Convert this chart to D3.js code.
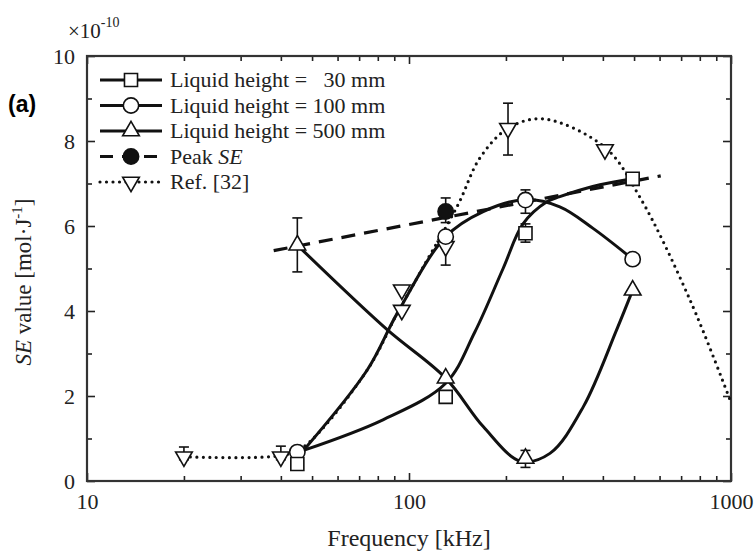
<!DOCTYPE html>
<html>
<head>
<meta charset="utf-8">
<script src="https://cdn.jsdelivr.net/npm/d3@7"></script>
<style>
  html, body { margin: 0; padding: 0; background: #fff; }
  svg { display: block; }
  text { font-family: 'Liberation Serif', 'Times New Roman', serif; fill: #222; }
</style>
</head>
<body>
<svg id="chart" width="756" height="554"></svg>
<script>
// Transducer frequencies (kHz) shared by the three liquid heights
const freqs = [45, 130, 230, 495];
// SE values (x1e-10 mol/J)
const se30  = [0.40, 1.98, 5.83, 7.11];
const se100 = [0.68, 5.75, 6.61, 5.22];
const se500 = [5.55, 2.42, 0.53, 4.49];

// Peak SE marker and its trend line
const peakFreq = [130];
const peakSE   = [6.34];
const peakLine = [[38, 5.42], [605, 7.18]];

// Ref. [32]
const refFreq = [20, 40, 95, 95, 130, 203, 406];
const refSE   = [0.57, 0.57, 4.50, 4.02, 5.52, 8.30, 7.80];

// Smooth trend curves through each data set [freq, SE]
const fit30  = [[47,0.72],[83,1.44],[130,2.30],[160,3.50],[196,5.00],[226,6.05],[268,6.57],[294,6.69],[372,6.93],[495,7.11]];
const fit100 = [[47,0.72],[74,2.60],[92,3.95],[130,5.75],[170,6.34],[230,6.62],[294,6.45],[372,5.95],[495,5.22]];
const fit500 = [[45,5.55],[85,3.58],[130,2.42],[170,1.28],[222,0.47],[274,0.65],[348,1.75],[441,3.55],[495,4.49]];
const fitRef = [[20,0.57],[40,0.60],[47,0.80],[74,2.60],[92,3.95],[110,5.00],[142,6.50],[166,7.60],[203,8.30],[261,8.52],[406,7.85],[521,6.68],[746,4.26],[1000,1.85]];

// Error bars [freq, low, high]
const err30   = [[45,0.28,0.80],[130,1.86,2.12],[230,5.62,6.05]];
const err100  = [[230,6.30,6.85]];
const err500  = [[45,4.92,6.19],[230,0.32,0.72]];
const errPeak = [[130,6.08,6.66]];
const errRef  = [[20,0.50,0.80],[40,0.50,0.82],[130,5.08,5.70],[203,7.67,8.89]];

// Axis ticks
const xTicks = [10, 100, 1000];
const xMinor = [20,30,40,50,60,70,80,90,200,300,400,500,600,700,800,900];
const yTicks = [0, 2, 4, 6, 8, 10];
const yMinor = [1, 3, 5, 7, 9];

const legendLabels = ["Liquid height = \u200730 mm", "Liquid height = 100 mm", "Liquid height = 500 mm", "Peak ", "Ref. [32]"];

const svg = d3.select("#chart");
const L = 87, R = 731, T = 56, B = 481;
const x = d3.scaleLog().domain([10, 1000]).range([L, R]);
const y = d3.scaleLinear().domain([0, 10]).range([B, T]);

// ---- axes (inward ticks on all four sides) ----
function styleAxis(g) {
  g.select(".domain").remove();
  g.selectAll(".tick line").attr("stroke", "#222").attr("stroke-width", 1.6);
  g.selectAll(".tick text").attr("font-family", "'Liberation Serif', 'Times New Roman', serif")
    .attr("font-size", 22).attr("fill", "#222");
}
const fmtInt = d3.format("d");
svg.append("g").attr("transform", `translate(0,${B})`)
  .call(d3.axisBottom(x).tickValues(xTicks).tickFormat(fmtInt).tickSizeInner(-8).tickSizeOuter(0).tickPadding(12))
  .call(styleAxis);
svg.append("g").attr("transform", `translate(0,${B})`)
  .call(d3.axisBottom(x).tickValues(xMinor).tickFormat("").tickSizeInner(-5).tickSizeOuter(0))
  .call(styleAxis);
svg.append("g").attr("transform", `translate(0,${T})`)
  .call(d3.axisTop(x).tickValues(xTicks).tickFormat("").tickSizeInner(-8).tickSizeOuter(0))
  .call(styleAxis);
svg.append("g").attr("transform", `translate(0,${T})`)
  .call(d3.axisTop(x).tickValues(xMinor).tickFormat("").tickSizeInner(-5).tickSizeOuter(0))
  .call(styleAxis);
svg.append("g").attr("transform", `translate(${L},0)`)
  .call(d3.axisLeft(y).tickValues(yTicks).tickFormat(fmtInt).tickSizeInner(-8).tickSizeOuter(0).tickPadding(12))
  .call(styleAxis);
svg.append("g").attr("transform", `translate(${L},0)`)
  .call(d3.axisLeft(y).tickValues(yMinor).tickFormat("").tickSizeInner(-5).tickSizeOuter(0))
  .call(styleAxis);
svg.append("g").attr("transform", `translate(${R},0)`)
  .call(d3.axisRight(y).tickValues(yTicks).tickFormat("").tickSizeInner(-8).tickSizeOuter(0))
  .call(styleAxis);
svg.append("g").attr("transform", `translate(${R},0)`)
  .call(d3.axisRight(y).tickValues(yMinor).tickFormat("").tickSizeInner(-5).tickSizeOuter(0))
  .call(styleAxis);

svg.append("rect").attr("x", L).attr("y", T).attr("width", R - L).attr("height", B - T)
  .attr("fill", "none").attr("stroke", "#333").attr("stroke-width", 2.2);

// axis titles
svg.append("text").attr("x", (L + R) / 2).attr("y", 546).attr("text-anchor", "middle")
  .attr("font-size", 24).text("Frequency [kHz]");

const yt = svg.append("text").attr("transform", "translate(31,282) rotate(-90)")
  .attr("text-anchor", "middle").attr("font-size", 23);
yt.append("tspan").attr("font-style", "italic").text("SE");
yt.append("tspan").text(" value [mol\u00B7J");
yt.append("tspan").attr("font-size", 15).attr("dy", -9).text("-1");
yt.append("tspan").attr("dy", 9).text("]");

// exponent label
const ex = svg.append("text").attr("x", 68).attr("y", 38).attr("font-size", 21);
ex.append("tspan").text("\u00D710");
ex.append("tspan").attr("font-size", 14).attr("dy", -11).text("-10");

// panel tag
svg.append("text").attr("x", 8).attr("y", 112).attr("font-size", 23)
  .attr("font-weight", "bold").style("font-family", "'Liberation Sans', Arial, sans-serif")
  .style("fill", "#000").text("(a)");

// ---- curves ----
const line = d3.line().x(d => x(d[0])).y(d => y(d[1])).curve(d3.curveCatmullRom.alpha(0.5));
const plot = svg.append("g");

plot.append("path").datum(fitRef).attr("d", line).attr("fill", "none")
  .attr("stroke", "#111").attr("stroke-width", 3.2).attr("stroke-linecap", "round")
  .attr("stroke-dasharray", "0 6.5");
plot.append("path").datum(peakLine).attr("d", d3.line().x(d => x(d[0])).y(d => y(d[1])))
  .attr("fill", "none").attr("stroke", "#111").attr("stroke-width", 3.2).attr("stroke-dasharray", "14 9");
[fit30, fit100, fit500].forEach(f => {
  plot.append("path").datum(f).attr("d", line).attr("fill", "none")
    .attr("stroke", "#111").attr("stroke-width", 3);
});

// ---- error bars ----
function errorBars(list) {
  const g = plot.append("g").attr("stroke", "#111").attr("stroke-width", 1.6);
  list.forEach(([f, lo, hi]) => {
    g.append("line").attr("x1", x(f)).attr("x2", x(f)).attr("y1", y(lo)).attr("y2", y(hi));
    g.append("line").attr("x1", x(f) - 5).attr("x2", x(f) + 5).attr("y1", y(lo)).attr("y2", y(lo));
    g.append("line").attr("x1", x(f) - 5).attr("x2", x(f) + 5).attr("y1", y(hi)).attr("y2", y(hi));
  });
}
[errRef, err30, err100, err500, errPeak].forEach(errorBars);

// ---- markers ----
const sq = d3.symbol().type(d3.symbolSquare).size(170);
const ci = d3.symbol().type(d3.symbolCircle).size(185);
const tri = d3.symbol().type(d3.symbolTriangle).size(120);

function markers(fs, vs, sym, opts = {}) {
  plot.append("g").selectAll("path").data(fs.map((f, i) => [f, vs[i]])).join("path")
    .attr("d", sym)
    .attr("transform", d => `translate(${x(d[0])},${y(d[1])})${opts.down ? " rotate(180)" : ""}`)
    .attr("fill", opts.fill || "#fff").attr("stroke", "#111").attr("stroke-width", 1.6);
}
markers(refFreq, refSE, tri, { down: true });
markers(freqs, se100, ci);
markers(freqs, se30, sq);
markers(freqs, se500, tri);
markers(peakFreq, peakSE, ci, { fill: "#111" });

// ---- legend ----
const leg = svg.append("g");
const legY = [80, 105.5, 131, 156.5, 182];
const lx0 = 100, lx1 = 162, lmid = 131;
legY.forEach((ly, i) => {
  const seg = leg.append("line").attr("x1", lx0).attr("x2", lx1).attr("y1", ly).attr("y2", ly)
    .attr("stroke", "#111").attr("stroke-width", 3);
  if (i === 3) seg.attr("x2", 158).attr("stroke-dasharray", "13 9");
  if (i === 4) seg.attr("stroke-dasharray", "0 6.5").attr("stroke-linecap", "round").attr("stroke-width", 3.2);
  const sym = [sq, ci, tri, ci, tri][i];
  leg.append("path").attr("d", sym)
    .attr("transform", `translate(${lmid},${ly})${i === 4 ? " rotate(180)" : ""}`)
    .attr("fill", i === 3 ? "#111" : "#fff").attr("stroke", "#111").attr("stroke-width", 1.6);
  const t = leg.append("text").attr("x", 170).attr("y", ly + 7).attr("font-size", 22)
    .style("white-space", "pre").text(legendLabels[i]);
  if (i === 3) t.append("tspan").attr("font-style", "italic").text("SE");
});
</script>
</body>
</html>
